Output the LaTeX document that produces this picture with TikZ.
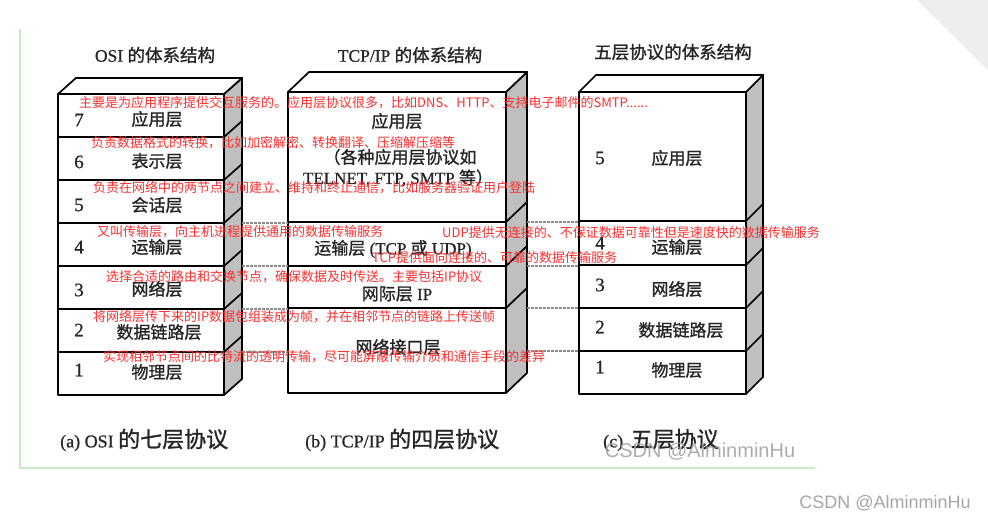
\documentclass[tikz,border=0pt]{standalone}
\usepackage{fontspec}
\setmainfont{Liberation Serif}
\newfontfamily\cjk{Noto Sans CJK SC}
\newfontfamily\cjkb[FakeBold=1.2]{Noto Sans CJK SC}
\newfontfamily\serb[FakeBold=0.8]{Liberation Serif}
\newfontfamily\wmfont{Liberation Sans}
\definecolor{notered}{RGB}{250,48,48}
\definecolor{framegreen}{RGB}{200,236,200}
\newcommand\layerstack[7]{%
  \filldraw[sideface] (#2,#3) -- (#2+#5,#3-#6) -- (#2+#5,#4-#6) -- (#2,#4) -- cycle;
  \filldraw[topface] (#1,#3) -- (#1+#5,#3-#6) -- (#2+#5,#3-#6) -- (#2,#3) -- cycle;
  \draw[boxline] (#1,#3) rectangle (#2,#4);
  \foreach \yy in {#7} {\draw[boxline] (#1,\yy) -- (#2,\yy) -- (#2+#5,\yy-#6);}
}
\tikzset{
  boxline/.style={line width=1.7pt, line join=round},
  sideface/.style={fill=gray!50, draw=black, line width=1.7pt, line join=round},
  topface/.style={fill=white, draw=black, line width=1.7pt, line join=round},
  title/.style={font=\serb\fontsize{17.5}{20}\selectfont, inner sep=0pt, text=black!85},
  lname/.style={font=\serb\fontsize{17}{20}\selectfont, inner sep=0pt, text=black!85},
  lnum/.style={font=\serb\fontsize{19}{20}\selectfont, inner sep=0pt, text=black!85},
  capt/.style={font=\serb\fontsize{18}{22}\selectfont, inner sep=0pt, anchor=west, text=black!85},
  note/.style={text=notered, font=\cjk\fontsize{13}{15}\selectfont, anchor=west, inner sep=0pt},
  dashlink/.style={gray!90, line width=1.1pt, dash pattern=on 2.5pt off 1.5pt},
  wmark/.style={font=\wmfont, inner sep=0pt},
}
\begin{document}
\begin{tikzpicture}[x=1pt,y=-1pt]
\path[use as bounding box, fill=white] (0,0) rectangle (988,521);
% page corner
\fill[gray!13] (917,0) -- (988,0) -- (988,70) -- cycle;
% green frame
\draw[framegreen, line width=1.2pt] (20,29) -- (20,468) -- (815,468);

% titles
\node[title] (osititle) at (155,55) {OSI {\cjkb 的体系结构}};
\node[title] (tcptitle) at (410,55) {TCP/IP {\cjkb 的体系结构}};
\node[title] (fivetitle) at (673,52) {\cjkb 五层协议的体系结构};

% stacks
\layerstack{58}{224}{94}{395}{18}{16}{137,180,223,266,309,352}
\layerstack{288}{506}{92}{393}{21}{20}{222,266,308}
\layerstack{579}{746}{92}{394}{17}{17}{221,265,308,351}

% dashed links between stacks
\foreach \n/\yy in {a/223,b/266,c/309,d/352}{
  \coordinate (osiR\n) at (242,\yy);
  \coordinate (tcpL\n) at (288,\yy);
  \draw[dashlink] (osiR\n) -- (tcpL\n);
}
\foreach \n/\yy in {a/222,b/266,c/308,d/351}{
  \coordinate (tcpR\n) at (527,\yy);
  \coordinate (fiveL\n) at (579,\yy);
  \draw[dashlink] (tcpR\n) -- (fiveL\n);
}

% OSI labels
\node[lnum] (o7n) at (79,120) {7}; \node[lname] (o7) at (157,119) {\cjkb 应用层};
\node[lnum] (o6n) at (79,162) {6}; \node[lname] (o6) at (157,161) {\cjkb 表示层};
\node[lnum] (o5n) at (79,205) {5}; \node[lname] (o5) at (157,205) {\cjkb 会话层};
\node[lnum] (o4n) at (79,247) {4}; \node[lname] (o4) at (157,247) {\cjkb 运输层};
\node[lnum] (o3n) at (79,290) {3}; \node[lname] (o3) at (157,289) {\cjkb 网络层};
\node[lnum] (o2n) at (79,330) {2}; \node[lname] (o2) at (159,332) {\cjkb 数据链路层};
\node[lnum] (o1n) at (79,370) {1}; \node[lname] (o1) at (157,372) {\cjkb 物理层};

% TCP/IP labels
\node[lname] (t4) at (397,121) {\cjkb 应用层};
\node[lname] (t4a) at (400,157) {\cjkb （各种应用层协议如};
\node[lname] (t4b) at (398,178) {TELNET, FTP, SMTP {\cjkb 等）}};
\node[lname] (t3) at (393,249) {{\cjkb 运输层} (TCP {\cjkb 或} UDP)};
\node[lname] (t2) at (397,294) {{\cjkb 网际层} IP};
\node[lname] (t1) at (398,347) {\cjkb 网络接口层};

% five-layer labels
\node[lnum] (f5n) at (600,158) {5}; \node[lname] (f5) at (677,158) {\cjkb 应用层};
\node[lnum] (f4n) at (600,243) {4}; \node[lname] (f4) at (677,247) {\cjkb 运输层};
\node[lnum] (f3n) at (600,285) {3}; \node[lname] (f3) at (677,289) {\cjkb 网络层};
\node[lnum] (f2n) at (600,327) {2}; \node[lname] (f2) at (681,330) {\cjkb 数据链路层};
\node[lnum] (f1n) at (600,367) {1}; \node[lname] (f1) at (677,370) {\cjkb 物理层};

% captions
\node[capt] (capa) at (60,440) {(a) OSI {\cjkb\fontsize{22}{22}\selectfont 的七层协议}};
\node[capt] (capb) at (305,440) {(b) TCP/IP {\cjkb\fontsize{22}{22}\selectfont 的四层协议}};
\node[capt] (capc) at (603,440) {(c) \,{\cjkb\fontsize{22}{22}\selectfont 五层协议}};

% red notes
\node[note] (n1) at (79,103) {主要是为应用程序提供交互服务的。应用层协议很多，比如DNS、HTTP、支持电子邮件的SMTP......};
\node[note] (n2) at (91,143) {负责数据格式的转换，比如加密解密、转换翻译、压缩解压缩等};
\node[note] (n3) at (93,188) {负责在网络中的两节点之间建立、维持和终止通信，比如服务器验证用户登陆};
\node[note] (n4) at (97,232) {又叫传输层，向主机进程提供通用的数据传输服务};
\node[note] (n5) at (442,233) {UDP提供无连接的、不保证数据可靠性但是速度快的数据传输服务};
\node[note] (n6) at (372,258) {TCP提供面向连接的、可靠的数据传输服务};
\node[note] (n7) at (106,277) {选择合适的路由和交换节点，确保数据及时传送。主要包括IP协议};
\node[note] (n8) at (93,317) {将网络层传下来的IP数据包组装成为帧，并在相邻节点的链路上传送帧};
\node[note] (n9) at (103,357) {实现相邻节点间的比特流的透明传输，尽可能屏蔽传输介质和通信手段的差异};

% watermarks
\node[wmark, text=gray!75, opacity=0.85, font=\wmfont\fontsize{20}{22}\selectfont] (wm1) at (700,452) {CSDN @AlminminHu};
\node[wmark, text=gray!70, font=\wmfont\fontsize{18}{20}\selectfont] (wm2) at (885,503) {CSDN @AlminminHu};
\end{tikzpicture}
\end{document}
